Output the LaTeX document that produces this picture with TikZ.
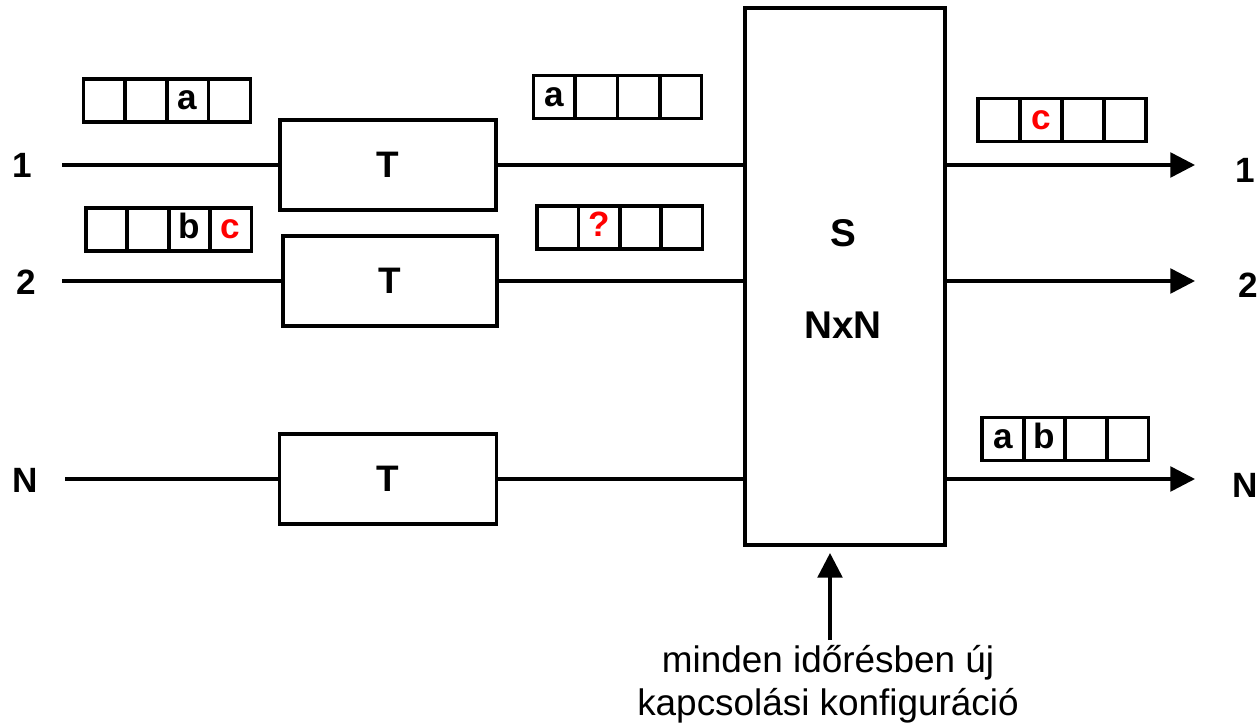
\documentclass[tikz,border=0pt]{standalone}
\usepackage{xcolor}
\usepackage{fontspec}
\setmainfont{Liberation Sans}
\usetikzlibrary{arrows.meta}

\begin{document}
\begin{tikzpicture}[x=0.02cm,y=-0.02cm,
  box/.style={draw, line width=1.9pt, inner sep=0pt, font=\bfseries\fontsize{21}{25}\selectfont},
  cell/.style={draw, line width=1.9pt, minimum width=0.835cm, minimum height=0.86cm, inner sep=0pt,
    text height=10.8pt, text depth=0pt, font=\bfseries\fontsize{20}{24}\selectfont},
  wire/.style={line width=2pt},
  port/.style={font=\bfseries\fontsize{20}{24}\selectfont},
  >={Triangle[length=14pt,width=14pt]}]
\useasboundingbox (0,0) rectangle (1260,726);
% T blocks and the switch
\node[box, minimum width=4.32cm, minimum height=1.8cm] (T1) at (388,165) {T};
\node[box, minimum width=4.28cm, minimum height=1.8cm] (T2) at (390,281) {T};
\node[box, minimum width=4.34cm, minimum height=1.8cm] (TN) at (388,479) {T};
\node[box, minimum width=4.0cm, minimum height=10.74cm] (S) at (845,276.5) {};
\node[port, font=\bfseries\fontsize{22}{26}\selectfont] (Slabel) at (843,233) {S};
\node[port, font=\bfseries\fontsize{22}{26}\selectfont] (Ssize) at (843,325) {NxN};
% ports
\node[port] (in1) at (22,165) {1};
\node[port] (in2) at (26,282) {2};
\node[port] (inN) at (25,480) {N};
\node[port] (out1) at (1245,170) {1};
\node[port] (out2) at (1248,285) {2};
\node[port] (outN) at (1245,485) {N};
\coordinate (a1) at (62,165);  \coordinate (b1) at (1195,165);
\coordinate (a2) at (62,281);  \coordinate (b2) at (1195,281);
\coordinate (aN) at (65,479);  \coordinate (bN) at (1195,479);
\draw[wire] (a1) -- (T1.west |- a1); \draw[wire] (T1.east) -- (T1 -| S.west); \draw[wire,->] (S.east |- T1) -- (b1);
\draw[wire] (a2) -- (T2.west |- a2); \draw[wire] (T2.east) -- (T2 -| S.west); \draw[wire,->] (S.east |- T2) -- (b2);
\draw[wire] (aN) -- (TN.west |- aN); \draw[wire] (TN.east) -- (TN -| S.west); \draw[wire,->] (S.east |- TN) -- (bN);
% frame buffers
\foreach \i/\t in {1/{},2/{},3/a,4/{}}
  \node[cell] (bufA\i) at ({62.5+41.75*\i},100.5) {\t};
\foreach \i/\t in {1/{},2/{},3/b,4/\textcolor{red}{c}}
  \node[cell] (bufB\i) at ({65.5+41.25*\i},229.5) {\t};
\foreach \i/\t in {1/a,2/{},3/{},4/{}}
  \node[cell] (bufC\i) at ({512+42.2*\i},97) {\t};
\foreach \i/\t in {1/{},2/\textcolor{red}{?},3/{},4/{}}
  \node[cell] (bufD\i) at ({516.5+41.3*\i},227.5) {\t};
\foreach \i/\t in {1/{},2/\textcolor{red}{c},3/{},4/{}}
  \node[cell] (bufE\i) at ({957+42*\i},120) {\t};
\foreach \i/\t in {1/a,2/b,3/{},4/{}}
  \node[cell] (bufF\i) at ({961.5+41.5*\i},439) {\t};
% control input
\node[align=center, font=\fontsize{21}{24.4}\selectfont] (ctrl) at (828,684) {minden időrésben új\\kapcsolási konfiguráció};
\coordinate (c0) at (830,640);
\coordinate (c1) at (830,553);
\draw[wire,->] (c0) -- (c1);
\end{tikzpicture}
\end{document}
